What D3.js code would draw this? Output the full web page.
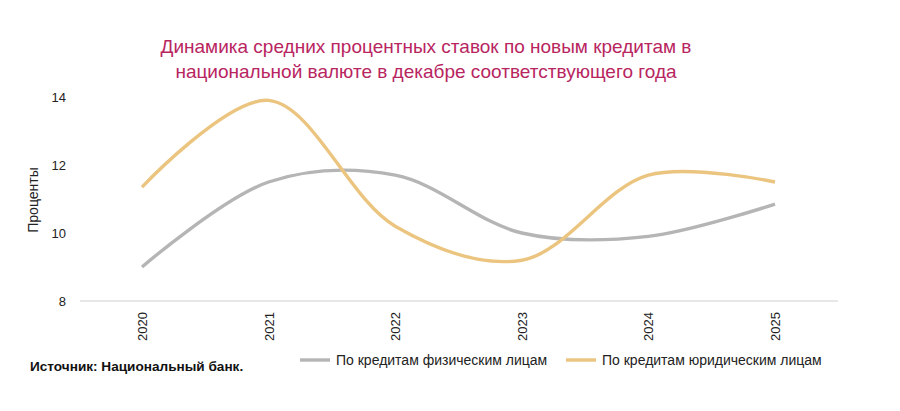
<!DOCTYPE html>
<html><head><meta charset="utf-8">
<script src="https://cdn.jsdelivr.net/npm/d3@7"></script>
<style>body{margin:0;background:#fff;font-family:Arial,"Liberation Sans",sans-serif}</style>
</head><body>
<svg id="chart" width="900" height="411"></svg>
<script>
const years = ['2020', '2021', '2022', '2023', '2024', '2025'];
const individuals = [9.0, 11.5, 11.7, 10.0, 9.9, 10.85];
const legalEntities = [11.35, 13.9, 10.2, 9.2, 11.7, 11.5];
const yTicks = [8, 10, 12, 14];
const seriesNames = ['По кредитам физическим лицам', 'По кредитам юридическим лицам'];
const colors = ['#b5b5b5', '#ebc57f'];

const svg = d3.select('#chart');
const padding = {left: 80, right: 62, top: 97, bottom: 110};
const width = 900, height = 411;

const xScale = d3.scalePoint().domain(years).range([142, 775]);
const yScale = d3.scaleLinear().domain([8, 14]).range([height - padding.bottom, padding.top]);

svg.append('text').attr('x', 426).attr('y', 53).attr('text-anchor', 'middle')
  .attr('fill', '#b8255f').attr('font-size', 19).text('Динамика средних процентных ставок по новым кредитам в');
svg.append('text').attr('x', 426).attr('y', 78).attr('text-anchor', 'middle')
  .attr('fill', '#b8255f').attr('font-size', 19).text('национальной валюте в декабре соответствующего года');

svg.append('g').selectAll('text').data(yTicks).enter().append('text')
  .attr('x', 66).attr('y', d => yScale(d) + 5).attr('text-anchor', 'end')
  .attr('font-size', 13).attr('fill', '#222').text(d => d);

svg.append('text').attr('transform', 'translate(38,200) rotate(-90)')
  .attr('text-anchor', 'middle').attr('font-size', 14).attr('fill', '#222').text('Проценты');

svg.append('line').attr('x1', 80).attr('x2', 838).attr('y1', yScale(8)).attr('y2', yScale(8))
  .attr('stroke', '#d0d0d0');

svg.append('g').selectAll('text').data(years).enter().append('text')
  .attr('transform', d => `translate(${xScale(d) + 5},${yScale(8) + 11}) rotate(-90)`)
  .attr('text-anchor', 'end').attr('font-size', 13).attr('fill', '#222').text(d => d);

const line = d3.line().x((d, i) => xScale(years[i])).y(d => yScale(d)).curve(d3.curveCatmullRom.alpha(0.5));
[individuals, legalEntities].forEach((s, i) => {
  svg.append('path').attr('d', line(s)).attr('fill', 'none')
    .attr('stroke', colors[i]).attr('stroke-width', 3.4);
});

const legendX = [300, 566];
seriesNames.forEach((n, i) => {
  svg.append('line').attr('x1', legendX[i]).attr('x2', legendX[i] + 30)
    .attr('y1', 360).attr('y2', 360).attr('stroke', colors[i]).attr('stroke-width', 3.4);
  svg.append('text').attr('x', legendX[i] + 36).attr('y', 365)
    .attr('font-size', 14).attr('fill', '#222').text(n);
});

svg.append('text').attr('x', 30).attr('y', 371).attr('font-size', 13.6)
  .attr('font-weight', 'bold').attr('fill', '#111').text('Источник: Национальный банк.');
</script>
</body></html>
